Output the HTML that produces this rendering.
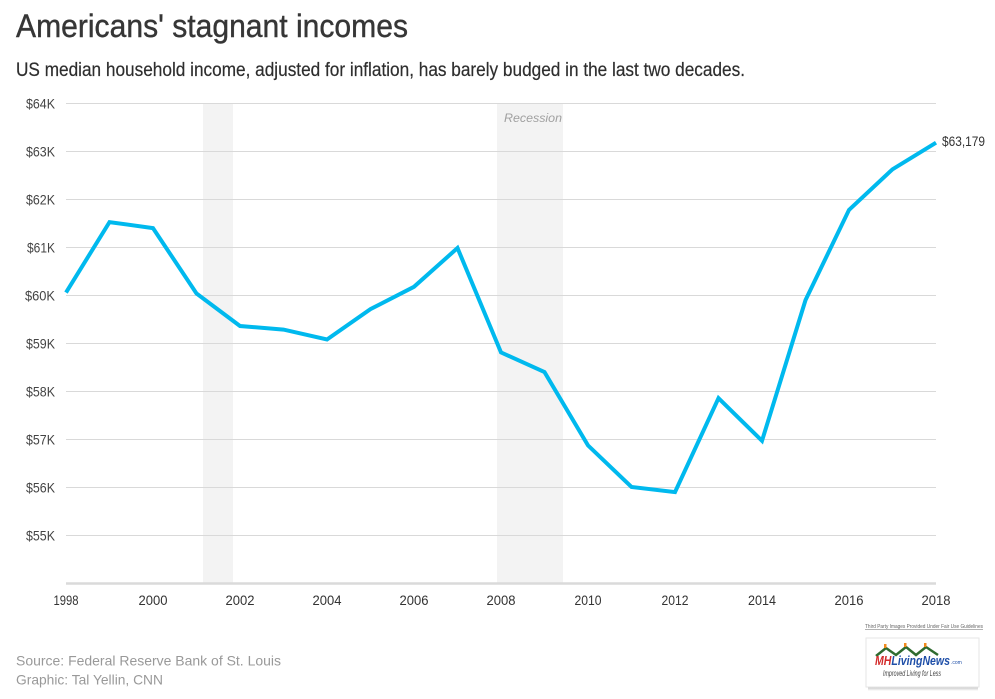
<!DOCTYPE html>
<html><head><meta charset="utf-8"><style>
html,body{margin:0;padding:0;background:#fff;}
svg{display:block;}
.n{font-family:"Liberation Sans Narrow","Liberation Sans",sans-serif;}
.s{font-family:"Liberation Sans",sans-serif;}
</style></head><body>
<svg width="995" height="699" viewBox="0 0 995 699" xmlns="http://www.w3.org/2000/svg">
<rect width="995" height="699" fill="#fff"/>
<text class="n" x="16" y="37" font-size="32" fill="#363636" stroke="#363636" stroke-width="0.4" textLength="392" lengthAdjust="spacingAndGlyphs">Americans' stagnant incomes</text>
<text class="n" x="16" y="76" font-size="19" fill="#2e2e2e" stroke="#2e2e2e" stroke-width="0.2" textLength="729" lengthAdjust="spacingAndGlyphs">US median household income, adjusted for inflation, has barely budged in the last two decades.</text>
<!-- recession bands -->
<rect x="203" y="103" width="30" height="480" fill="#f3f3f3"/>
<rect x="497" y="103" width="66" height="480" fill="#f3f3f3"/>
<text class="s" x="504" y="122" font-size="12" font-style="italic" fill="#a0a0a0" textLength="58" lengthAdjust="spacingAndGlyphs">Recession</text>
<!-- gridlines -->
<g stroke="#d9d9d9" stroke-width="1">
<line x1="66" x2="936" y1="103.5" y2="103.5"/>
<line x1="66" x2="936" y1="151.5" y2="151.5"/>
<line x1="66" x2="936" y1="199.5" y2="199.5"/>
<line x1="66" x2="936" y1="247.5" y2="247.5"/>
<line x1="66" x2="936" y1="295.5" y2="295.5"/>
<line x1="66" x2="936" y1="343.5" y2="343.5"/>
<line x1="66" x2="936" y1="391.5" y2="391.5"/>
<line x1="66" x2="936" y1="439.5" y2="439.5"/>
<line x1="66" x2="936" y1="487.5" y2="487.5"/>
<line x1="66" x2="936" y1="535.5" y2="535.5"/>
</g>
<line x1="66" x2="936" y1="583.5" y2="583.5" stroke="#dadada" stroke-width="2.5"/>
<g class="n" font-size="14" fill="#444" text-anchor="end">
<text x="55" y="108.5" textLength="29" lengthAdjust="spacingAndGlyphs">$64K</text>
<text x="55" y="156.5" textLength="29" lengthAdjust="spacingAndGlyphs">$63K</text>
<text x="55" y="204.5" textLength="29" lengthAdjust="spacingAndGlyphs">$62K</text>
<text x="55" y="252.5" textLength="28" lengthAdjust="spacingAndGlyphs">$61K</text>
<text x="55" y="300.5" textLength="30" lengthAdjust="spacingAndGlyphs">$60K</text>
<text x="55" y="348.5" textLength="29" lengthAdjust="spacingAndGlyphs">$59K</text>
<text x="55" y="396.5" textLength="29" lengthAdjust="spacingAndGlyphs">$58K</text>
<text x="55" y="444.5" textLength="29" lengthAdjust="spacingAndGlyphs">$57K</text>
<text x="55" y="492.5" textLength="29" lengthAdjust="spacingAndGlyphs">$56K</text>
<text x="55" y="540.5" textLength="29" lengthAdjust="spacingAndGlyphs">$55K</text>
</g>
<g class="n" font-size="14" fill="#333" text-anchor="middle">
<text x="66" y="605" textLength="25" lengthAdjust="spacingAndGlyphs">1998</text>
<text x="153" y="605" textLength="29" lengthAdjust="spacingAndGlyphs">2000</text>
<text x="240" y="605" textLength="29" lengthAdjust="spacingAndGlyphs">2002</text>
<text x="327" y="605" textLength="29" lengthAdjust="spacingAndGlyphs">2004</text>
<text x="414" y="605" textLength="29" lengthAdjust="spacingAndGlyphs">2006</text>
<text x="501" y="605" textLength="29" lengthAdjust="spacingAndGlyphs">2008</text>
<text x="588" y="605" textLength="27" lengthAdjust="spacingAndGlyphs">2010</text>
<text x="675" y="605" textLength="27" lengthAdjust="spacingAndGlyphs">2012</text>
<text x="762" y="605" textLength="28" lengthAdjust="spacingAndGlyphs">2014</text>
<text x="849" y="605" textLength="29" lengthAdjust="spacingAndGlyphs">2016</text>
<text x="936" y="605" textLength="29" lengthAdjust="spacingAndGlyphs">2018</text>
</g>
<polyline fill="none" stroke="#00b9ee" stroke-width="4" stroke-linejoin="miter" stroke-linecap="butt"
points="66,292.6 109.5,222.1 153,228.1 196.5,293.5 240,326 283.5,329.6 327,339.5 370.5,309.1 414,286.8 457.5,248 501,352.4 544.5,372.1 588,445.4 631.5,487 675,492.1 718.5,398.2 762,440.8 805.5,300.1 849,209.9 892.5,169.3 936,142.7"/>
<text class="n" x="942" y="146" font-size="14" fill="#333" textLength="43" lengthAdjust="spacingAndGlyphs">$63,179</text>
<text class="s" x="16" y="665.5" font-size="14" fill="#999" textLength="265" lengthAdjust="spacingAndGlyphs">Source: Federal Reserve Bank of St. Louis</text>
<text class="s" x="16" y="684.5" font-size="14" fill="#999" textLength="147" lengthAdjust="spacingAndGlyphs">Graphic: Tal Yellin, CNN</text>
<!-- logo -->
<text class="s" x="865" y="628" font-size="5" fill="#666" text-decoration="underline" textLength="118" lengthAdjust="spacingAndGlyphs">Third Party Images Provided Under Fair Use Guidelines</text>
<defs><linearGradient id="sh" x1="0" y1="0" x2="0" y2="1"><stop offset="0" stop-color="#999"/><stop offset="1" stop-color="#fff"/></linearGradient></defs>
<rect x="868" y="686" width="110" height="5" fill="url(#sh)" opacity="0.7"/>
<rect x="866" y="638" width="113" height="49" fill="#fff" stroke="#e6e6e6" stroke-width="1"/>
<polyline points="876,656 886,648 896,655 906,647 916,655 926,647 938,655" fill="none" stroke="#2f6b2f" stroke-width="2.5"/>
<g fill="#f08a1c"><rect x="884" y="644" width="2.5" height="4"/><rect x="904" y="643" width="2.5" height="4"/><rect x="924" y="643" width="2.5" height="4"/></g>
<text class="s" x="875" y="665" font-size="13" font-weight="bold" font-style="italic" textLength="75" lengthAdjust="spacingAndGlyphs"><tspan fill="#d32a2a">MH</tspan><tspan fill="#1f4fa8">LivingNews</tspan></text>
<text class="s" x="951" y="664" font-size="5" fill="#1f4fa8">.com</text>
<text class="s" x="883" y="676" font-size="8" font-style="italic" fill="#444" textLength="58" lengthAdjust="spacingAndGlyphs">Improved Living for Less</text>
</svg>
</body></html>
